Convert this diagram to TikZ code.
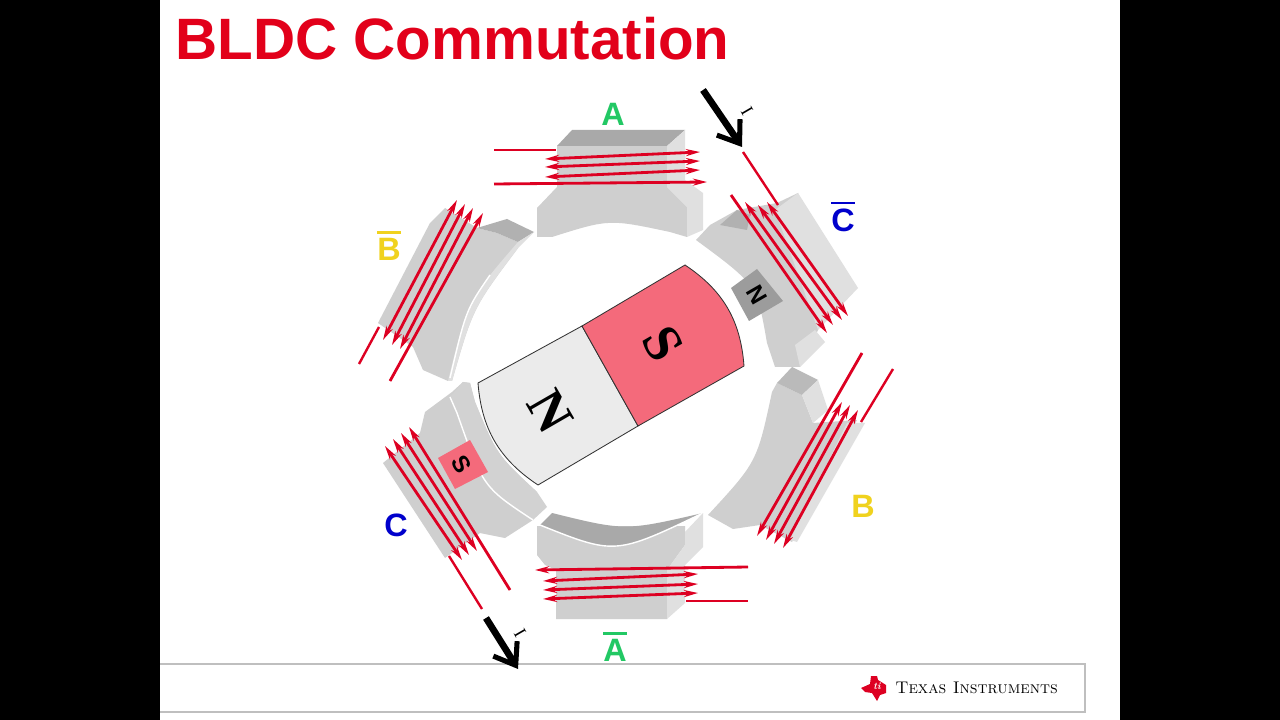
\documentclass[tikz,border=0pt]{standalone}
\usepackage{fontspec}
\usetikzlibrary{arrows.meta}
\newfontfamily\labelfont{Liberation Sans}
\newfontfamily\rotorfont{Liberation Serif}
\definecolor{tired}{HTML}{DD0022}
\definecolor{titlered}{HTML}{E2001A}
\definecolor{rotorpink}{HTML}{F46A7B}
\definecolor{rotorwhite}{HTML}{EBEBEB}
\definecolor{polemid}{HTML}{CFCFCF}
\definecolor{polelight}{HTML}{E0E0E0}
\definecolor{poledark}{HTML}{A9A9A9}
\definecolor{phasea}{HTML}{22C864}
\definecolor{phaseb}{HTML}{F0D21E}
\definecolor{phasec}{HTML}{0000CC}
\newcommand{\barlabel}[1]{\vbox{\hrule height 1.8pt \vskip 3.4pt \hbox{#1}}}
\tikzset{
	coil/.style={draw=tired,line width=2pt,{Stealth[length=10pt,width=5pt]}-{Stealth[length=10pt,width=5pt]}},
	coilend/.style={draw=tired,line width=2pt,-{Stealth[length=10pt,width=5pt]}},
	lead/.style={draw=tired,line width=1.7pt},
	current/.style={draw=black,line width=4.8pt,-{Straight Barb[length=14pt,width=20pt,line width=3.6pt]}},
	phase/.style={font=\labelfont\fontsize{23}{23}\selectfont\bfseries,inner sep=0pt},
	poletext/.style={font=\labelfont\fontsize{17}{17}\selectfont\bfseries,inner sep=0pt,rotate=-60},
	rotortext/.style={font=\rotorfont\fontsize{38}{38}\selectfont\bfseries,inner sep=0pt,rotate=-60},
	smalltext/.style={font=\rotorfont\fontsize{13}{13}\selectfont,inner sep=0pt,rotate=-60}
}
\begin{document}
\begin{tikzpicture}[x=0.025cm,y=-0.025cm]
	\useasboundingbox (0,0) rectangle (1280,720);
	\fill[black] (0,0) rectangle (1280,720);
	\fill[white] (160,0) rectangle (1120,720);
	\draw[gray!50,line width=0.8pt] (160,664) -- (1085,664) -- (1085,712) -- (160,712);
	\node[anchor=base west,inner sep=0pt,text=titlered,font=\labelfont\fontsize{41.5}{41.5}\selectfont\bfseries] (title) at (175,60) {BLDC Commutation};
	% pole A
	\fill[polemid] (557,146) -- (667,146) -- (667,187) -- (687,207) -- (687,237) -- (670,232) .. controls (609,219) .. (552,237) -- (537,237) -- (537,208) -- (557,187) -- cycle;
	\fill[poledark] (557,146) -- (572,130) -- (685,130) -- (667,146) -- cycle;
	\fill[polelight] (667,146) -- (685,130) -- (685,180) -- (703,193) -- (703,230) -- (687,237) -- (687,207) -- (667,187) -- cycle;
	% pole A bar
	\fill[polemid] (537,526) -- (685,526) -- (685,545) -- (667,570) -- (667,619) -- (556,619) -- (556,570) -- (545,565) -- (537,555) -- cycle;
	\shade[left color=poledark,middle color=polemid,right color=poledark] (540,525) -- (552,513) .. controls (625,531) .. (703,513) .. controls (615,555) .. (540,525);
	\draw[white,line width=1pt] (540,525) .. controls (615,555) .. (703,513);
	\fill[polelight] (685,532) -- (703,513) -- (703,547) -- (685,565) -- (685,603) -- (667,619) -- (667,570) -- (685,545) -- cycle;
	% pole B bar
	\fill[polemid] (430,223) -- (445,208) -- (477,228) -- (497,233) -- (518,242) -- (518,248) .. controls (473,308) .. (452,381) -- (448,381) -- (423,370) -- (413,347) -- (378,323) -- cycle;
	\fill[poledark!80!polemid] (477,228) -- (507,219) -- (534,232) -- (518,242) -- (497,233) -- cycle;
	\fill[polelight] (534,232) -- (518,248) .. controls (473,308) .. (452,381) -- (448,381) .. controls (468,300) .. (518,242) -- cycle;
	\draw[white,line width=1pt] (450,378) .. controls (466,310) .. (490,275);
	% pole B
	\fill[polemid] (708,515) .. controls (757,462) .. (772,392) -- (777,383) -- (802,395) -- (813,423) -- (857,420) -- (792,542) -- (760,525) -- (733,529) -- cycle;
	\fill[poledark!55!polemid] (777,383) -- (792,367) -- (818,380) -- (802,395) -- cycle;
	\fill[polelight] (802,395) -- (818,380) -- (828,410) -- (813,423) -- cycle;
	\fill[polelight] (847,423) -- (865,423) -- (797,542) -- (790,540) -- cycle;
	% pole C
	\fill[polemid] (420,433) -- (425,412) -- (452,392) -- (463,382) -- (470,383) -- (475,402) .. controls (497,455) .. (537,492) -- (533,520) -- (505,538) -- (480,533) -- (445,558) -- (383,463) -- cycle;
	\fill[polemid!80!polelight] (463,382) -- (470,383) -- (475,402) .. controls (497,455) .. (537,492) -- (547,507) -- (533,520) .. controls (483,487) .. (457,413) -- (450,397) -- cycle;
	\draw[white,line width=1pt] (450,397) -- (457,413) .. controls (483,487) .. (533,520);
	% pole C bar
	\fill[polemid] (696,240) -- (710,225) -- (737,210) -- (777,203) -- (798,193) -- (820,250) -- (818,330) -- (800,367) -- (775,367) -- (767,343) .. controls (757,285) .. (696,240);
	\fill[polelight] (798,193) -- (858,288) -- (818,330) -- (775,210) -- cycle;
	\fill[poledark!80!polemid] (720,225) -- (737,210) -- (750,215) -- (747,230) -- cycle;
	\fill[polelight] (800,367) -- (825,342) -- (815,330) -- (795,345) -- cycle;
	% magnets on poles
	\fill[gray!78] (757,269) -- (783,301) -- (749,321) -- (731,288) -- cycle;
	\node[poletext] (smalln) at (757,295) {N};
	\fill[rotorpink] (470,440) -- (488,472) -- (455,489) -- (438,458) -- cycle;
	\node[poletext] (smalls) at (462,464) {S};
	% rotor
	\draw[fill=rotorwhite,draw=black!80,line width=0.6pt] (582,326) -- (478,383) to[bend right=26] (538,485) -- (638,426) -- cycle;
	\draw[fill=rotorpink,draw=black!80,line width=0.6pt] (582,326) -- (685,265) to[bend left=26] (744,366) -- (638,426) -- cycle;
	\node[rotortext] (rotorn) at (550,411) {N};
	\node[rotortext] (rotors) at (663,344) {S};
	% windings
	\foreach \xa/\ya/\xb/\yb in {
		545/159/700/152,545/167/700/161,545/177/700/170,
		543/581/698/574,543/590/698/584,543/599/698/593,
		745/202/833/325,758/205/842/320,767/202/848/316,
		457/200/383/340,465/204/392/345,473/208/400/349,
		385/446/462/560,393/439/469/555,401/433/477/551,
		842/402/766/540,850/405/774/544,858/410/783/548}
		\draw[coil] (\xa,\ya) -- (\xb,\yb);
	\foreach \xa/\ya/\xb/\yb in {
		494/184/707/182,748/567/535/570,731/195/827/333,
		390/381/483/213,510/590/409/427,862/353/757/536}
		\draw[coilend] (\xa,\ya) -- (\xb,\yb);
	\foreach \xa/\ya/\xb/\yb in {
		494/150/556/150,686/601/748/601,743/152/778/205,
		379/327/359/364,449/556/482/609,893/369/861/422}
		\draw[lead] (\xa,\ya) -- (\xb,\yb);
	% currents
	\coordinate (intail) at (703,90);
	\coordinate (inhead) at (742,147);
	\coordinate (outtail) at (486,618);
	\coordinate (outhead) at (518,669);
	\draw[current] (intail) -- (inhead);
	\draw[current] (outtail) -- (outhead);
	\node[smalltext] (inlabel) at (747,111) {I};
	\node[smalltext] (outlabel) at (520,633) {I};
	% phase labels
	\node[phase,text=phasea] (phaseA) at (613,114) {A};
	\node[phase,text=phasea] (phaseAbar) at (615,647) {\barlabel{A}};
	\node[phase,text=phaseb] (phaseB) at (863,506) {B};
	\node[phase,text=phaseb] (phaseBbar) at (389,246) {\barlabel{B}};
	\node[phase,text=phasec] (phaseC) at (396,525) {C};
	\node[phase,text=phasec] (phaseCbar) at (843,217) {\barlabel{C}};
	% logo
	\fill[tired] (861,688) -- (870,684) -- (871,676) -- (877,676) -- (878,680) -- (886,685) -- (886,693) -- (880,695) -- (877,701) -- (872,693) -- (865,692) -- cycle;
	\node[inner sep=0pt,text=white,font=\fontsize{7}{7}\selectfont\itshape\bfseries] (logoti) at (877,686) {ti};
	\node[anchor=base west,inner sep=0pt,font=\fontsize{12}{12}\selectfont\scshape] (logotext) at (895,693) {Texas Instruments};
\end{tikzpicture}
\end{document}
